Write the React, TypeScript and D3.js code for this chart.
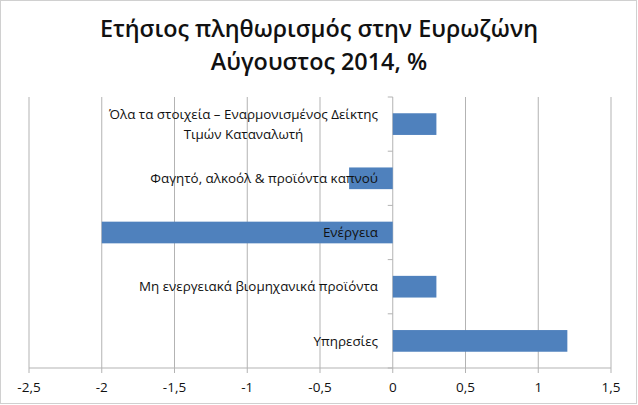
import React from "react";
import * as d3 from "d3";

const categories: string[][] = [
  ["Όλα τα στοιχεία – Εναρμονισμένος Δείκτης", "Τιμών Καταναλωτή"],
  ["Φαγητό, αλκοόλ & προϊόντα καπνού"],
  ["Ενέργεια"],
  ["Μη ενεργειακά βιομηχανικά προϊόντα"],
  ["Υπηρεσίες"],
];
const values: number[] = [0.3, -0.3, -2.0, 0.3, 1.2];
const xTicks: number[] = [-2.5, -2, -1.5, -1, -0.5, 0, 0.5, 1, 1.5];
const titleLines: string[] = ["Ετήσιος πληθωρισμός στην Ευρωζώνη", "Αύγουστος 2014, %"];

const W = 638;
const H = 405;
const font = "'Open Sans', 'Noto Sans', sans-serif";

export default function App() {
  const x = d3.scaleLinear().domain([-2.5, 1.5]).range([29, 611]);
  const y = d3
    .scaleBand<number>()
    .domain(categories.map((_, i) => i))
    .range([97, 368])
    .paddingInner(0.6)
    .paddingOuter(0.3);
  const fmt = (v: number) => String(v).replace(".", ",");
  const gridColor = "#b3b3b3";
  const x0 = x(0);
  const boundaries = d3.range(categories.length + 1).map((i) => 97 + (i * (368 - 97)) / categories.length);

  return (
    <svg width={W} height={H} style={{ position: "absolute", left: 0, top: 0, background: "#fff" }}>
      <rect x={0.5} y={0.5} width={W - 2} height={H - 2} fill="#fff" stroke="#d0d0d0" />
      {titleLines.map((t, i) => (
        <text
          key={i}
          x={W / 2}
          y={37 + i * 33}
          textAnchor="middle"
          fontFamily={font}
          fontWeight="600"
          fontSize={23.4}
          fill="#111"
        >
          {t}
        </text>
      ))}
      {xTicks.map((t) => (
        <line key={"g" + t} x1={x(t)} x2={x(t)} y1={97} y2={368} stroke={gridColor} strokeWidth={1} />
      ))}
      <line x1={x(-2.5)} x2={x(1.5)} y1={368} y2={368} stroke={gridColor} />
      {xTicks.map((t) => (
        <line key={"t" + t} x1={x(t)} x2={x(t)} y1={368} y2={373} stroke={gridColor} />
      ))}
      {boundaries.map((b, i) => (
        <line key={"b" + i} x1={x0 - 5} x2={x0} y1={b} y2={b} stroke={gridColor} />
      ))}
      {values.map((v, i) => (
        <rect
          key={"r" + i}
          x={Math.min(x(0), x(v))}
          y={y(i)!}
          width={Math.abs(x(v) - x(0))}
          height={y.bandwidth()}
          fill="#4f81bd"
        />
      ))}
      {categories.map((lines, i) => {
        const cy = y(i)! + y.bandwidth() / 2;
        const lh = 20;
        const startY = cy - ((lines.length - 1) * lh) / 2;
        return (
          <text
            key={"c" + i}
            fontFamily={font}
            fontSize={13.4}
            fill="#111"
            textAnchor={lines.length > 1 ? "middle" : "end"}
          >
            {lines.map((l, j) => (
              <tspan key={j} x={lines.length > 1 ? 243.5 : 378} y={startY + j * lh} dy="0.35em">
                {l}
              </tspan>
            ))}
          </text>
        );
      })}
      {xTicks.map((t) => (
        <text
          key={"l" + t}
          x={x(t)}
          y={387}
          dy="0.35em"
          textAnchor="middle"
          fontFamily={font}
          fontSize={13.5}
          fill="#111"
        >
          {fmt(t)}
        </text>
      ))}
    </svg>
  );
}
